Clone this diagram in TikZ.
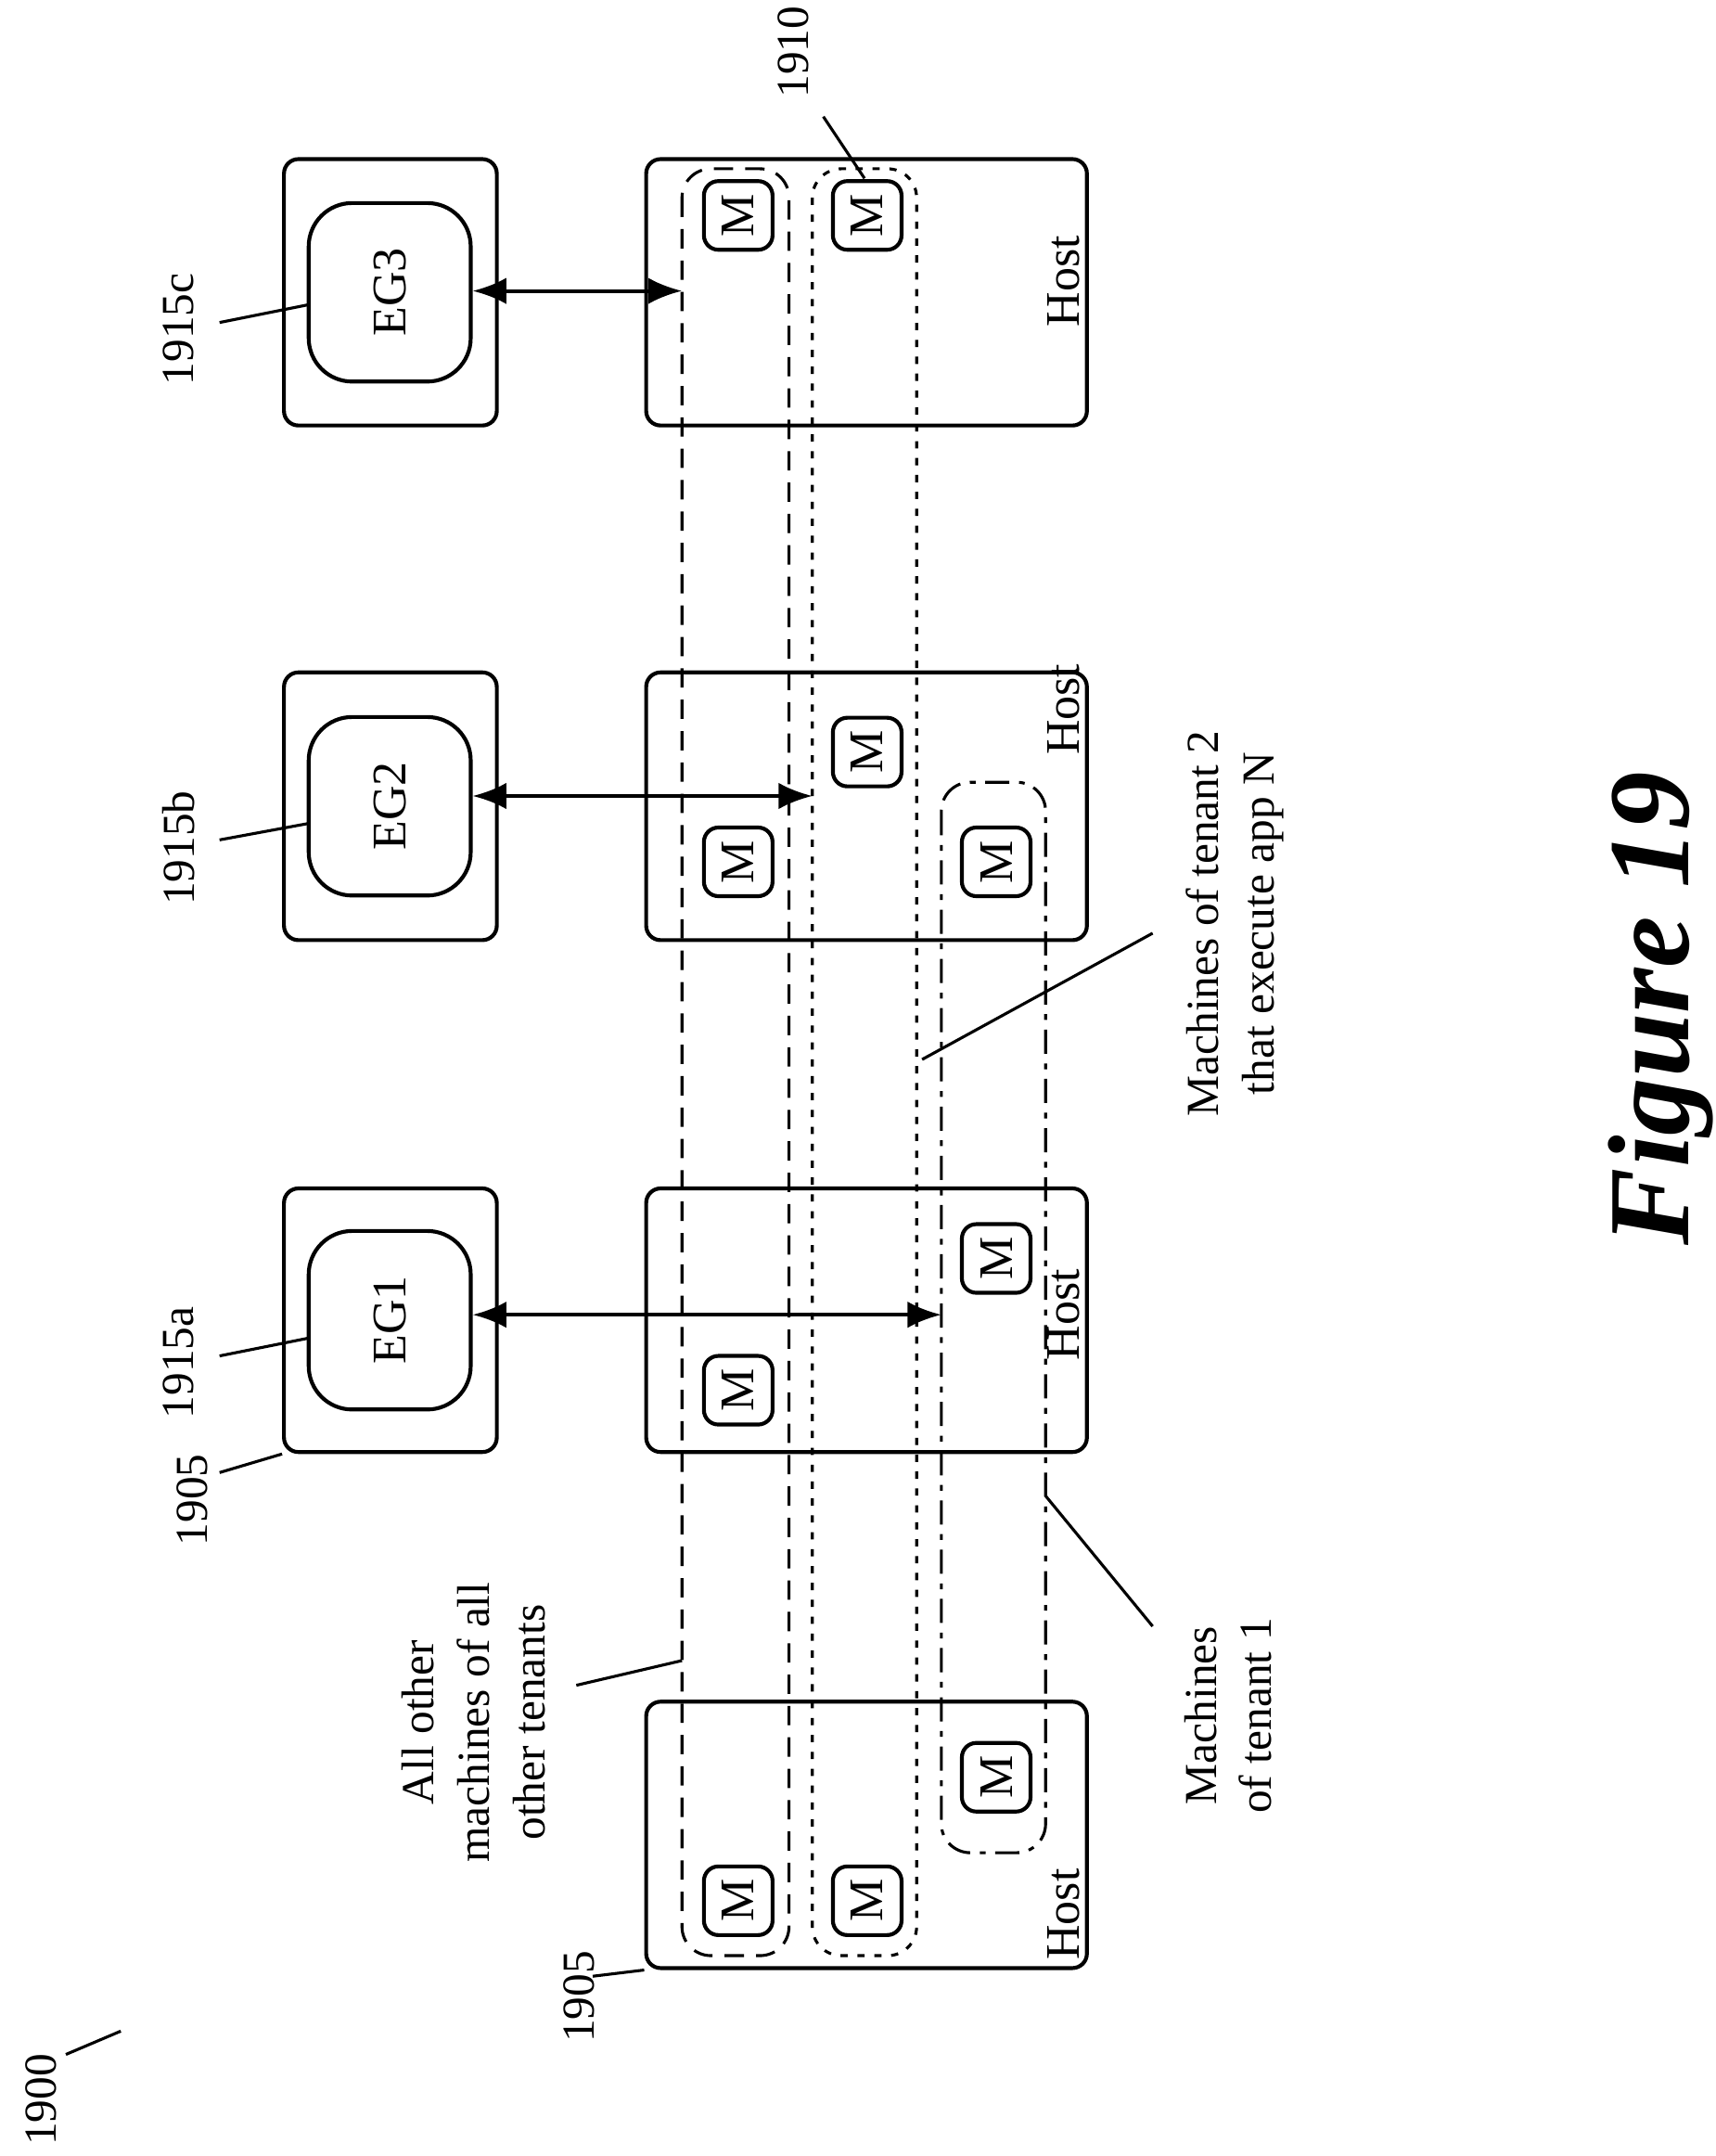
\documentclass[tikz,border=0pt]{standalone}
\usepackage{fontspec}
\setmainfont{Liberation Serif}
\usetikzlibrary{arrows.meta}
\begin{document}
\begin{tikzpicture}[x=0.01cm,y=-0.01cm,
  box/.style={draw,line width=0.8pt,rounded corners=3pt,inner sep=0pt},
  eg/.style={draw,line width=0.8pt,rounded corners=9pt,minimum width=1.18cm,minimum height=1.30cm,inner sep=0pt,font=\fontsize{10}{11}\selectfont},
  mm/.style={draw,line width=0.8pt,rounded corners=3pt,minimum width=0.5cm,minimum height=0.5cm,inner sep=0pt,font=\fontsize{10}{11}\selectfont},
  lbl/.style={rotate=90,font=\fontsize{9.5}{11.5}\selectfont,align=center,inner sep=1pt},
  grp/.style={line width=0.6pt,rounded corners=6pt},
  ld/.style={line width=0.6pt},
  arr/.style={line width=0.8pt,{Latex[length=7pt,width=5.5pt]}-{Latex[length=7pt,width=5.5pt]}}]
\useasboundingbox (0,0) rectangle (1250,1571);
% EG outer boxes
\node[box,minimum width=1.55cm,minimum height=1.94cm] (o3) at (284.5,213) {};
\node[box,minimum width=1.55cm,minimum height=1.95cm] (o2) at (284.5,587.5) {};
\node[box,minimum width=1.55cm,minimum height=1.92cm] (o1) at (284.5,962) {};
\node[eg] (eg3) at (284,213) {\rotatebox{90}{EG3}};
\node[eg] (eg2) at (284,587.5) {\rotatebox{90}{EG2}};
\node[eg] (eg1) at (284,962) {\rotatebox{90}{EG1}};
% hosts
\node[box,minimum width=3.21cm,minimum height=1.94cm] (h4) at (631.5,213) {};
\node[box,minimum width=3.21cm,minimum height=1.95cm] (h3) at (631.5,587.5) {};
\node[box,minimum width=3.21cm,minimum height=1.92cm] (h2) at (631.5,962) {};
\node[box,minimum width=3.21cm,minimum height=1.94cm] (h1) at (631.5,1337) {};
\node[lbl,font=\fontsize{10}{11}\selectfont] (t4) at (775,205) {Host};
\node[lbl,font=\fontsize{10}{11}\selectfont] (t3) at (775,517) {Host};
\node[lbl,font=\fontsize{10}{11}\selectfont] (t2) at (775,958) {Host};
\node[lbl,font=\fontsize{10}{11}\selectfont] (t1) at (775,1395) {Host};
% machines
\node[mm] (m41) at (538,157) {\rotatebox{90}{M}};
\node[mm] (m42) at (632,157) {\rotatebox{90}{M}};
\node[mm] (m31) at (632,548) {\rotatebox{90}{M}};
\node[mm] (m32) at (538,628) {\rotatebox{90}{M}};
\node[mm] (m33) at (726,628) {\rotatebox{90}{M}};
\node[mm] (m21) at (538,1013) {\rotatebox{90}{M}};
\node[mm] (m22) at (726,917) {\rotatebox{90}{M}};
\node[mm] (m11) at (538,1385) {\rotatebox{90}{M}};
\node[mm] (m12) at (632,1385) {\rotatebox{90}{M}};
\node[mm] (m13) at (726,1295) {\rotatebox{90}{M}};
% groups
\draw[grp,dash pattern=on 4pt off 2.5pt] (497,123) rectangle (575,1425);
\draw[grp,dash pattern=on 1.5pt off 2pt] (592,123) rectangle (668,1425);
\draw[grp,dash pattern=on 5pt off 2pt on 1.2pt off 2pt] (686,570) rectangle (762,1350);
% arrows
\coordinate (a3) at (497,212);
\coordinate (a2) at (592,580);
\coordinate (a1) at (686,958);
\draw[arr] (eg3.east |- a3) -- (a3);
\draw[arr] (eg2.east |- a2) -- (a2);
\draw[arr] (eg1.east |- a1) -- (a1);
% reference labels
\node[lbl] (l1900) at (30,1530) {1900};
\draw[ld] (48,1497) -- (88,1480);
\node[lbl] (l1905b) at (422,1455) {1905};
\draw[ld] (432,1440) -- (h1.south west);
\node[lbl] (l1905a) at (140,1093) {1905};
\draw[ld] (160,1073) -- (o1.south west);
\node[lbl] (l1915a) at (130,993) {1915a};
\draw[ld] (160,988) -- (225,975);
\node[lbl] (l1915b) at (130,618) {1915b};
\draw[ld] (160,612) -- (225,600);
\node[lbl] (l1915c) at (130,240) {1915c};
\draw[ld] (160,235) -- (225,222);
\node[lbl] (l1910) at (578,38) {1910};
\draw[ld] (600,85) -- (630,130);
\node[lbl] (lall) at (345,1255) {All other\\machines of all\\other tenants};
\draw[ld] (420,1228) -- (497,1210);
\node[lbl] (lt2) at (900,673) {Machines of tenant 2\\that execute app N};
\draw[ld] (672,772) -- (840,680);
\node[lbl] (lt1) at (895,1250) {Machines\\of tenant 1};
\draw[ld] (762,1090) -- (840,1185);
\node[rotate=90,font=\fontsize{24}{28}\selectfont\bfseries\itshape] (fig) at (1210,735) {Figure 19};
\end{tikzpicture}
\end{document}
